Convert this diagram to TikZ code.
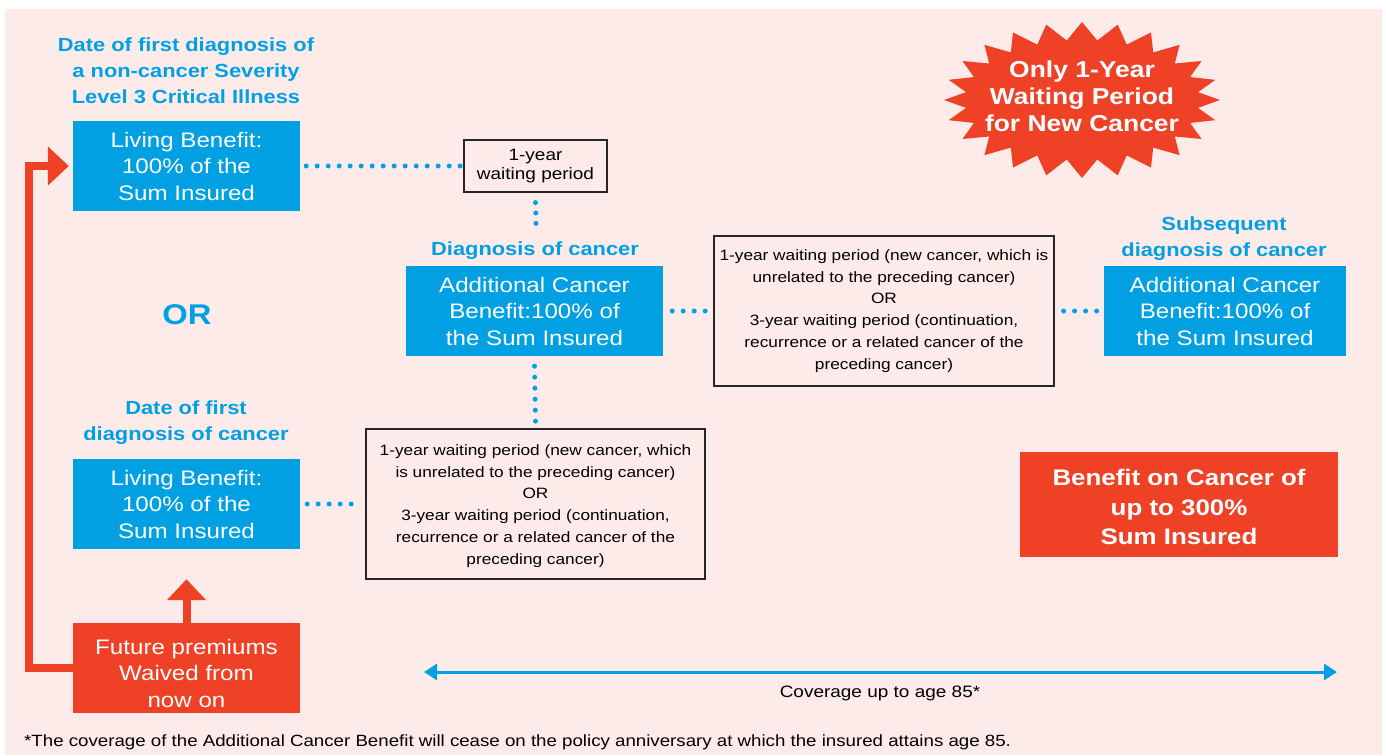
\documentclass[tikz,border=0pt]{standalone}
\usepackage{fontspec}
\setmainfont{Liberation Sans}[FakeStretch=1.15]
\usetikzlibrary{arrows.meta}
\definecolor{cblue}{RGB}{0,160,227}
\definecolor{cred}{RGB}{238,65,38}
\definecolor{cpink}{RGB}{253,235,234}
\newcommand\fsz[2]{\fontsize{#1}{#2}\selectfont}
\tikzset{
  bluebox/.style={fill=cblue, text=white, inner sep=0pt, align=center, minimum height=90pt, font=\fsz{21}{26.5}},
  redbox/.style={fill=cred, text=white, inner sep=0pt, align=center, font=\fsz{21}{26.5}},
  whitetext/.style={text=white, inner sep=0pt, align=center},
  waitbox/.style={draw=black!85, line width=1.2pt, inner sep=0pt, align=center, font=\fsz{15}{21.8}},
  head/.style={text=cblue, inner sep=0pt, align=center, font=\bfseries\fsz{19}{26}},
  dots/.style={cblue, line width=5pt, line cap=round, dash pattern=on 0pt off 11pt},
  thickred/.style={cred, line width=8pt, line join=miter, -{Triangle[length=21pt,width=38pt]}},
  plain/.style={inner sep=0pt}
}
\begin{document}
\begin{tikzpicture}[x=1pt,y=-1pt]
\useasboundingbox (0,0) rectangle (1386,755);
\fill[white] (0,0) rectangle (1386,755);
\fill[cpink] (5,9) rectangle (1382,755);

% headers
\node[head] (h1) at (186,71) {Date of first diagnosis of\\a non-cancer Severity\\Level 3 Critical Illness};
\node[head] (h2) at (535,251) {Diagnosis of cancer};
\node[head] (h3) at (1224,239) {Subsequent\\diagnosis of cancer};
\node[head] (h4) at (186,423) {Date of first\\diagnosis of cancer};
\node[text=cblue, inner sep=0pt, font=\bfseries\fsz{28.5}{30}] (or) at (187,315) {OR};

% blue boxes
\node[bluebox, minimum width=227pt] (lb1) at (186.5,166) {Living Benefit:\\100\% of the\\Sum Insured};
\node[bluebox, minimum width=257pt] (acb1) at (534.5,311) {Additional Cancer\\Benefit:100\% of\\the Sum Insured};
\node[bluebox, minimum width=242pt] (acb2) at (1225,311) {Additional Cancer\\Benefit:100\% of\\the Sum Insured};
\node[bluebox, minimum width=227pt] (lb2) at (186.5,504) {Living Benefit:\\100\% of the\\Sum Insured};

% waiting boxes
\node[waitbox, font=\fsz{16.5}{18.5}, minimum width=143pt, minimum height=52pt] (w1) at (535.5,166) {1-year\\waiting period};
\node[waitbox, minimum width=340pt, minimum height=150pt] (w2) at (884,311) {1-year waiting period (new cancer, which is\\unrelated to the preceding cancer)\\OR\\3-year waiting period (continuation,\\recurrence or a related cancer of the\\preceding cancer)};
\node[waitbox, minimum width=339pt, minimum height=150pt] (w3) at (535.5,504) {};
\node[whitetext, text=black, font=\fsz{15}{21.8}] (w3text) at (535.5,506) {1-year waiting period (new cancer, which\\is unrelated to the preceding cancer)\\OR\\3-year waiting period (continuation,\\recurrence or a related cancer of the\\preceding cancer)};

% red boxes
\node[redbox, minimum width=227pt, minimum height=90pt] (fut) at (186.5,668) {};
\node[whitetext, font=\fsz{21}{26.5}] (futtext) at (186.5,673) {Future premiums\\Waived from\\now on};
\node[redbox, minimum width=318pt, minimum height=105pt] (ben) at (1179,504.5) {};
\node[whitetext, font=\bfseries\fsz{22.5}{29.5}] (bentext) at (1179,507) {Benefit on Cancer of\\up to 300\%\\Sum Insured};

% starburst
\fill[cred] plot[samples at={0,...,47}, variable=\i]
  ({1082+ifthenelse(mod(\i,2)==0,138,117)*cos(\i*7.5)}, {100+ifthenelse(mod(\i,2)==0,78,60)*sin(\i*7.5)}) -- cycle;
\node[whitetext, font=\bfseries\fsz{23}{27}] (burst) at (1082,96.5) {Only 1-Year\\Waiting Period\\for New Cancer};

% dotted connectors
\coordinate (v1end) at (536,225);
\draw[dots] ([xshift=6pt]lb1.east) -- ([xshift=-3pt]w1.west);
\draw[dots, dash pattern=on 0pt off 10.4pt] ([yshift=-10pt]w1.south) -- (v1end);
\draw[dots] ([xshift=9pt]acb1.east) -- ([xshift=-5pt]w2.west);
\draw[dots] ([xshift=9pt]w2.east) -- ([xshift=-6pt]acb2.west);
\draw[dots] ([yshift=-10pt]acb1.south) -- ([yshift=6pt]w3.north);
\draw[dots] ([xshift=7pt]lb2.east) -- ([xshift=-14pt]w3.west);

% red arrows
\draw[thickred, shorten >=4pt] (fut.west) -- ++(-44,0) |- (lb1.west);
\draw[thickred] (fut.north) -- ([yshift=-30pt]lb2.south);

% coverage arrow
\coordinate (covL) at (424,672);
\coordinate (covR) at (1337,672);
\draw[cblue, line width=3pt, {Triangle[length=13pt,width=16pt]}-{Triangle[length=13pt,width=16pt]}] (covL) -- (covR);
\node[plain, font=\fsz{16.5}{19}] (cov) at (880,693) {Coverage up to age 85*};
\node[plain, anchor=west, font=\fsz{16.25}{19}] (note) at (24,742.5) {*The coverage of the Additional Cancer Benefit will cease on the policy anniversary at which the insured attains age 85.};
\end{tikzpicture}
\end{document}
